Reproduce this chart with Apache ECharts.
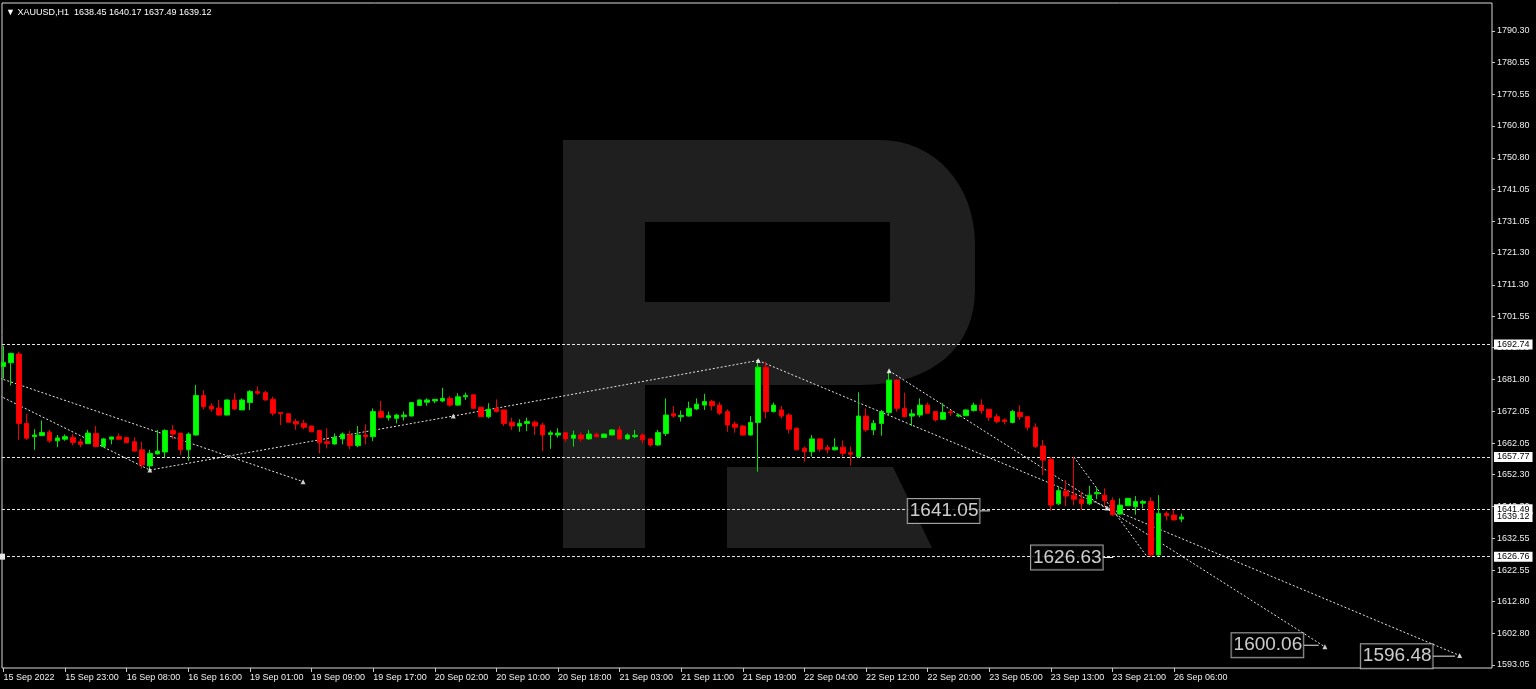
<!DOCTYPE html>
<html><head><meta charset="utf-8">
<script src="https://cdn.jsdelivr.net/npm/echarts@6/dist/echarts.min.js"></script>
<style>html,body{margin:0;padding:0;background:#000;overflow:hidden}#c{width:1536px;height:689px}</style>
</head><body><div id="c"></div>
<script>
// ---- data (XAUUSD H1, bar index 0 = 15 Sep 2022 15:00) ----
const opens = [1685.9,1687.1,1689.8,1668.2,1664.1,1664.4,1665.5,1662.8,1663.3,1663.8,1662.5,1661.9,1665.1,1661.0,1663.3,1664.1,1663.8,1662.5,1660.0,1655.0,
1658.7,1659.3,1666.0,1665.2,1660.0,1664.6,1676.9,1673.6,1673.0,1670.8,1675.5,1672.4,1674.7,1678.1,1677.8,1675.7,1671.6,1671.2,1668.8,1668.2,
1667.4,1666.0,1662.5,1661.8,1663.4,1664.6,1661.3,1664.6,1664.1,1671.9,1670.0,1669.8,1670.3,1670.5,1673.8,1674.8,1675.2,1675.2,1676.0,1673.9,
1676.5,1677.1,1673.2,1670.3,1672.9,1672.4,1668.6,1667.4,1668.2,1668.6,1667.7,1664.8,1664.6,1665.3,1663.6,1664.6,1663.4,1664.8,1663.8,1664.6,
1666.2,1663.4,1664.1,1664.6,1663.4,1661.5,1665.1,1671.2,1670.3,1670.5,1672.7,1673.9,1675.0,1673.9,1671.9,1668.0,1667.4,1664.6,1668.5,1685.7,
1671.9,1672.4,1670.8,1666.7,1660.5,1659.4,1663.4,1660.7,1660.0,1660.8,1659.1,1657.9,1670.5,1666.2,1668.2,1671.6,1681.7,1672.9,1670.5,1670.8,
1673.9,1671.9,1669.5,1671.8,1670.5,1670.6,1672.2,1673.9,1672.6,1670.3,1669.3,1668.5,1671.6,1670.3,1667.0,1661.2,1657.0,1643.2,1647.2,1645.9,
1644.6,1643.2,1646.3,1645.9,1644.2,1640.0,1642.6,1642.3,1643.4,1643.9,1627.3,1640.2,1639.7,1638.45];
const highs = [1692.3,1690.2,1690.5,1671.2,1666.4,1669.1,1666.2,1664.6,1664.8,1664.9,1663.4,1666.2,1667.4,1663.7,1664.0,1665.1,1663.9,1663.9,1662.5,1660.0,
1666.2,1666.4,1667.7,1665.2,1665.4,1680.2,1678.6,1674.5,1675.5,1675.7,1677.6,1676.0,1678.6,1679.7,1678.3,1676.5,1671.6,1671.3,1669.6,1669.3,
1667.5,1666.0,1666.7,1665.1,1665.4,1665.9,1667.4,1667.9,1672.9,1675.2,1671.9,1671.2,1671.9,1674.8,1675.7,1676.0,1675.8,1679.3,1676.7,1677.6,
1677.8,1677.2,1673.3,1674.5,1675.7,1672.5,1670.0,1669.5,1670.0,1669.1,1668.5,1666.0,1666.7,1665.6,1666.0,1665.4,1666.2,1665.4,1665.0,1666.4,
1667.4,1665.1,1666.2,1665.1,1663.5,1666.2,1676.0,1673.6,1672.2,1675.0,1676.0,1677.4,1675.5,1674.8,1672.6,1668.8,1667.7,1670.5,1687.7,1687.4,
1674.7,1673.6,1671.4,1667.0,1661.0,1664.6,1663.5,1661.5,1663.6,1662.9,1661.0,1677.9,1672.9,1669.3,1672.4,1684.6,1681.9,1677.8,1672.6,1676.0,
1674.7,1672.1,1674.5,1672.4,1671.2,1672.6,1674.7,1675.7,1672.7,1671.2,1669.8,1672.4,1673.9,1670.5,1668.2,1663.1,1657.7,1648.5,1650.6,1657.7,
1647.0,1648.8,1648.3,1648.0,1645.2,1644.9,1645.0,1645.6,1644.4,1645.2,1645.9,1640.8,1641.3,1640.17];
const lows = [1682.2,1680.0,1663.1,1663.1,1660.0,1664.3,1662.2,1660.8,1662.8,1661.4,1660.8,1661.8,1660.8,1660.8,1661.7,1663.1,1662.1,1659.3,1654.2,1653.5,
1658.6,1657.7,1663.3,1658.4,1656.6,1664.4,1672.6,1671.9,1670.6,1670.7,1672.4,1672.4,1672.4,1677.1,1675.3,1670.6,1667.7,1668.5,1666.2,1666.4,
1665.5,1658.9,1660.4,1661.6,1661.7,1660.2,1660.8,1661.7,1662.7,1670.0,1669.1,1668.2,1669.1,1670.4,1673.7,1673.7,1674.5,1674.8,1673.4,1673.7,
1675.5,1672.7,1670.2,1669.8,1671.6,1667.4,1666.2,1665.6,1665.8,1664.6,1659.6,1660.3,1663.8,1662.5,1661.0,1662.5,1663.1,1663.8,1663.7,1664.6,
1663.1,1663.1,1663.6,1662.0,1661.0,1661.2,1664.3,1670.0,1668.8,1670.3,1672.4,1672.4,1672.2,1670.8,1665.6,1665.3,1664.4,1664.4,1653.2,1669.8,
1671.6,1669.8,1665.1,1659.8,1656.3,1657.9,1659.4,1658.9,1659.8,1657.9,1655.1,1657.6,1665.6,1664.6,1664.4,1670.5,1671.9,1670.1,1667.4,1670.1,
1671.2,1668.8,1669.3,1670.5,1670.1,1670.5,1671.9,1671.2,1669.0,1668.2,1667.9,1668.2,1669.3,1666.0,1660.5,1652.2,1641.1,1642.8,1642.5,1642.8,
1641.3,1642.8,1644.6,1642.3,1639.4,1639.8,1642.5,1639.8,1641.8,1626.6,1627.0,1638.0,1638.0,1637.49];
const closes = [1687.2,1690.0,1668.2,1663.6,1664.6,1665.4,1662.8,1663.7,1664.1,1662.3,1661.7,1665.2,1661.0,1663.4,1664.0,1663.3,1662.2,1659.6,1655.3,1658.9,
1659.6,1666.0,1664.9,1660.0,1664.9,1676.9,1673.4,1672.7,1670.8,1675.5,1672.7,1675.5,1678.1,1677.6,1675.5,1671.4,1671.2,1668.6,1668.0,1667.0,
1665.6,1662.2,1662.0,1663.9,1664.9,1661.3,1664.6,1664.1,1671.9,1670.1,1670.6,1670.8,1670.8,1674.7,1675.5,1675.5,1675.7,1676.0,1673.9,1676.5,
1676.9,1672.9,1670.3,1672.6,1671.9,1668.2,1667.4,1668.2,1668.8,1667.4,1664.6,1665.3,1665.2,1663.4,1664.6,1663.4,1664.9,1664.1,1664.9,1666.2,
1663.4,1664.6,1664.5,1663.1,1661.5,1665.4,1670.8,1670.5,1670.7,1672.9,1674.2,1675.0,1673.7,1671.4,1667.7,1667.0,1664.6,1668.5,1685.7,1671.9,
1673.9,1670.5,1666.4,1660.0,1659.4,1663.4,1660.2,1660.0,1660.8,1658.9,1658.6,1670.5,1666.2,1668.2,1671.9,1681.7,1672.9,1670.3,1671.2,1673.9,
1671.4,1669.3,1671.6,1671.5,1670.8,1672.4,1673.9,1672.2,1670.1,1668.8,1668.8,1671.9,1670.3,1667.0,1661.0,1656.8,1642.8,1647.3,1645.6,1644.6,
1643.2,1645.9,1646.7,1644.2,1639.8,1642.8,1644.9,1643.9,1643.9,1627.3,1640.2,1639.5,1638.2,1639.12];

const timeLabels = ['15 Sep 2022','15 Sep 23:00','16 Sep 08:00','16 Sep 16:00','19 Sep 01:00','19 Sep 09:00','19 Sep 17:00',
'20 Sep 02:00','20 Sep 10:00','20 Sep 18:00','21 Sep 03:00','21 Sep 11:00','21 Sep 19:00','22 Sep 04:00','22 Sep 12:00',
'22 Sep 20:00','23 Sep 05:00','23 Sep 13:00','23 Sep 21:00','26 Sep 06:00'];
const barsPerLabel = 8;
const priceTicks = [1593.05,1602.80,1612.80,1622.55,1632.55,1642.30,1652.30,1662.05,1672.05,1681.80,1691.80,1701.55,1711.30,1721.30,1731.05,1741.05,1750.80,1760.80,1770.55,1780.55,1790.30];

const levelPrices = [1692.74, 1657.77, 1641.49, 1626.76];
const bidPrice = 1639.12;

// trend lines: [barIndex, price] pairs
const trendA = [[-0.5,1676.8],[19,1653.7]];
const trendB = [[19,1653.7],[58.4,1670.5],[98,1687.8]];
const trendC = [[-0.5,1682.3],[38.9,1650.1]];
const trendD = [[98,1687.8],[189.1,1596.0]];
const trendE = [[115,1684.6],[171.6,1598.7]];
const trendF = [[139,1657.77],[148.5,1626.76]];
const arrowPoints = [[19,1653.7],[38.9,1650.1],[58.4,1670.5],[98,1687.8],[115,1684.6],[143.3,1641.9],[171.6,1598.7],[189.1,1596.0]];

// text notes: shown value, anchor bar, anchor price
const noteTexts = ['1641.05','1626.63','1600.06','1596.48'];
const noteBars = [128.1,144.1,170.8,188.5];
const notePrices = [1641.0,1626.5,1599.2,1595.8];
const noteGaps = [10,10,15,22];

const header = 'XAUUSD,H1  1638.45 1640.17 1637.49 1639.12';

// ---- watermark shape helper ----
function bez(p0,p1,p2,p3,n){const out=[];for(let k=1;k<=n;k++){const t=k/n,u=1-t;
  out.push([u*u*u*p0[0]+3*u*u*t*p1[0]+3*u*t*t*p2[0]+t*t*t*p3[0], u*u*u*p0[1]+3*u*u*t*p1[1]+3*u*t*t*p2[1]+t*t*t*p3[1]]);}return out;}
const rOuter = [[563,140],[880,140]]
  .concat(bez([880,140],[935,140],[975,185],[975,245],16))
  .concat([[975,290]])
  .concat(bez([975,290],[975,345],[935,385],[860,385],16))
  .concat([[645,385],[645,548],[563,548]]);

// ---- chart ----
const chart = echarts.init(document.getElementById('c'), null, {renderer:'canvas'});
const candles = opens.map((o,i)=>[i,o,closes[i],lows[i],highs[i]]);
const FONT = 'Liberation Sans';
const dashLine = {color:'#e6e6e6', width:1, type:[2,2]};
const CLEAR = 'rgba(0,0,0,0)';
const BAR_PX = 7.7;

function trendSeries(d){
  return {type:'line', data:d, symbol:'none', silent:true, z:4, lineStyle:dashLine, animation:false};
}
const tickSegs = [];
const noteSeries = [];
noteBars.forEach((b,i)=>{
  tickSegs.push({type:'line', symbol:'none', silent:true, z:7, lineStyle:{color:'#e6e6e6', width:1},
    data:[[b-noteGaps[i]/BAR_PX,notePrices[i]],[b,notePrices[i]]]});
  noteSeries.push({type:'scatter', data:[[b,notePrices[i],noteTexts[i]]], symbolSize:1, itemStyle:{color:CLEAR}, z:8, silent:true,
    label:{show:true, position:'left', distance:noteGaps[i], formatter:p=>p.data[2], color:'#ffffff', fontSize:19, fontFamily:FONT,
      backgroundColor:'#000', borderColor:'#c8c8c8', borderWidth:1, padding:[2,1,1,2], lineHeight:21}});
});

const boxLabel = (txt)=>({show:true, position:'end', formatter:txt, color:'#000', backgroundColor:'#fff', fontSize:9, fontFamily:FONT, padding:[1,3,0,3], distance:2});
const lineMarks = levelPrices.map(p=>({yAxis:p, lineStyle:{color:'#e6e6e6', type:[3,2], width:1}, label:boxLabel(p.toFixed(2))}));
lineMarks[3].symbol = ['arrow','arrow'];
lineMarks[3].symbolSize = 6;
lineMarks.push({yAxis:bidPrice, lineStyle:{color:CLEAR, width:1}, label:boxLabel(bidPrice.toFixed(2))});

const option = {
  backgroundColor:'#000',
  animation:false,
  title:{text:'\u25BC '+header, left:1, top:3, textStyle:{color:'#ffffff', fontSize:9, fontFamily:FONT, fontWeight:'normal'}},
  graphic:[
    {type:'polygon', z:-10, shape:{points:rOuter}, style:{fill:'#1f1f1f'}},
    {type:'rect', z:-9, shape:{x:645,y:222,width:245,height:80}, style:{fill:'#000'}},
    {type:'polygon', z:-10, shape:{points:[[727,467],[893,467],[932,548],[727,548]]}, style:{fill:'#1f1f1f'}}
  ],
  grid:{left:2, right:44, top:3, bottom:21, show:true, borderColor:'#d8d8d8', borderWidth:1, backgroundColor:'transparent'},
  xAxis:{type:'value', min:-0.2, max:193.3,
    axisLine:{show:false, onZero:false}, splitLine:{show:false},
    axisTick:{show:true, length:4, lineStyle:{color:'#c8c8c8'}, customValues:timeLabels.map((_,k)=>k*barsPerLabel)},
    axisLabel:{show:true, customValues:timeLabels.map((_,k)=>k*barsPerLabel), formatter:v=>timeLabels[Math.round(v/barsPerLabel)],
      color:'#eeeeee', fontSize:9, fontFamily:FONT, align:'left', margin:5}},
  yAxis:{type:'value', position:'right', min:1592.12, max:1799.0,
    axisLine:{show:false, onZero:false}, splitLine:{show:false},
    axisTick:{show:true, length:3, lineStyle:{color:'#c8c8c8'}, customValues:priceTicks},
    axisLabel:{show:true, customValues:priceTicks, formatter:v=>v.toFixed(2), color:'#eeeeee', fontSize:9, fontFamily:FONT, margin:5}},
  series:[
    {type:'candlestick', data:candles, encode:{x:0,y:[1,2,3,4]}, barWidth:5, z:5,
      itemStyle:{color:'#00ff00', color0:'#ff0000', borderColor:'#00e600', borderColor0:'#f00000', borderWidth:1},
      markLine:{silent:true, symbol:['none','none'], animation:false, data:lineMarks}},
    trendSeries(trendA), trendSeries(trendB), trendSeries(trendC),
    trendSeries(trendD), trendSeries(trendE), trendSeries(trendF),
    {type:'scatter', data:arrowPoints, symbol:'triangle', symbolSize:5, z:6, itemStyle:{color:'#ffffff'}, silent:true}
  ].concat(tickSegs).concat(noteSeries)
};
chart.setOption(option);
</script></body></html>
